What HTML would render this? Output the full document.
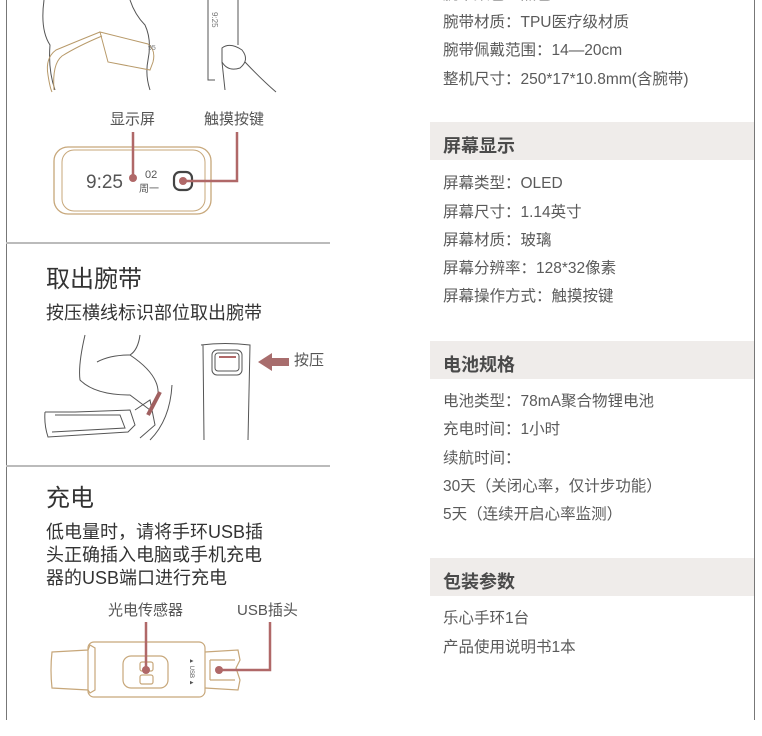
<!DOCTYPE html>
<html><head><meta charset="utf-8"><style>
body{margin:0;width:762px;height:736px;background:#fff;position:relative;overflow:hidden;font-family:"Liberation Sans","Noto Sans CJK SC",sans-serif;color:#555}
.t{position:absolute;white-space:nowrap;line-height:1}
.r{font-size:15.5px;color:#5a5a5a;left:443px}
.h{position:absolute;left:430px;width:324px;height:38px;background:#efecea}
.h span{position:absolute;left:13px;top:10px;font-size:18px;font-weight:bold;color:#4a4a4a}
.big{font-size:24px;color:#333;left:46px}
.mid{font-size:18px;color:#333;left:46px}
svg{position:absolute;left:0;top:0}
</style></head><body>
<div style="position:absolute;left:6px;top:0;width:1px;height:720px;background:#777"></div>
<div style="position:absolute;left:754px;top:0;width:1px;height:720px;background:#777"></div>
<div style="position:absolute;left:6px;top:242px;width:324px;height:2px;background:#bbb"></div>
<div style="position:absolute;left:6px;top:465px;width:324px;height:2px;background:#bbb"></div>

<svg width="762" height="736" viewBox="0 0 762 736" fill="none">
<g stroke="#555" stroke-width="1">
<path d="M44 0 Q40 30 50 45 Q48 70 55 90"/>
<path d="M130 0 Q135 15 145 25 Q152 40 148 60 Q145 75 150 90"/>
<path d="M208 0 L208 80 L215 80"/>
<path d="M238 0 L238 45"/>
<path d="M222 48 Q230 42 242 50 Q250 60 240 68 Q228 72 222 62 Z"/>
<path d="M222 62 L225 90 M245 62 Q262 80 276 92"/>
</g>
<g stroke="#b89a6a" stroke-width="1">
<path d="M100 32 Q80 40 56 50 Q45 58 48 75 Q50 88 52 92"/>
<path d="M102 36 Q78 46 62 56 Q52 64 54 90"/>
<path d="M100 32 L148 44 Q156 50 153 62 L150 70 L108 62 Z"/>
</g>
<text x="148" y="50" font-size="7" fill="#777" font-family="Liberation Sans">95</text>
<text x="212" y="12" font-size="8" fill="#777" transform="rotate(90 212 12)" font-family="Liberation Sans">9:25</text>
<rect x="54" y="147" width="157" height="67" rx="14" stroke="#c7a77a" stroke-width="1.3"/>
<rect x="62" y="150" width="143" height="61" rx="12" stroke="#c7a77a" stroke-width="1"/>
<text x="86" y="188" font-size="19" fill="#555" font-family="Liberation Sans">9:25</text>
<text x="145" y="178" font-size="11" fill="#555" font-family="Liberation Sans">02</text>
<text x="139" y="192" font-size="10" fill="#555" font-family="Noto Sans CJK SC">周一</text>
<rect x="174" y="172" width="18" height="18" rx="6" stroke="#444" stroke-width="2.2"/>
<circle cx="183" cy="181" r="4" fill="#b06868"/>
<circle cx="133" cy="178" r="4" fill="#b06868"/>
<path d="M133 132 V178 M183 181 H237 V132" stroke="#b06868" stroke-width="2.5"/>
<g stroke="#555" stroke-width="1">
<path d="M85 335 Q78 365 80 380 Q95 395 130 395 L150 410"/>
<path d="M140 335 Q138 350 130 355 Q110 355 97 362"/>
<path d="M130 355 Q160 375 158 395"/>
<path d="M172 385 Q170 420 150 440"/>
<path d="M45 412 L75 412 L130 410 L135 425 L128 432 L48 437 Q44 425 45 412"/>
<path d="M55 415 L120 415 L125 428 L52 432"/>
<path d="M135 410 L150 400 L155 425 L140 438"/>
<path d="M201 345 Q225 342 250 345 L248 440 M203 345 L204 440"/>
<rect x="212" y="350" width="30" height="25" rx="5"/>
<rect x="215" y="353" width="24" height="18" rx="3"/>
</g>
<path d="M148 415 L160 392" stroke="#a06060" stroke-width="4"/>
<path d="M219 357 H236" stroke="#b06868" stroke-width="2"/>
<path d="M258 362 L272 353 V358 H289 V366 H272 V371 Z" fill="#a86d6d"/>
<g stroke="#c7a77a" stroke-width="1.2">
<path d="M52 652 L88 650 L90 645 L95 648 L95 690 L90 693 L88 690 L52 688 Q50 670 52 652Z"/>
<rect x="88" y="642" width="117" height="55" rx="6"/>
<rect x="123" y="656" width="45" height="32" rx="8"/>
<rect x="140" y="662" width="13" height="9" rx="2"/>
<rect x="140" y="675" width="13" height="9" rx="2"/>
<path d="M205 652 L238 650 L240 660 L236 668 L240 680 L238 690 L205 688"/>
<path d="M210 660 L235 660 M210 680 L235 680 M210 660 V680"/>
</g>
<text x="190" y="658" font-size="6" fill="#555" transform="rotate(90 190 658)" font-family="Liberation Sans">▲ USB ▲</text>
<circle cx="146" cy="670" r="4" fill="#b06868"/>
<circle cx="219" cy="670" r="4" fill="#b06868"/>
<path d="M146 622 V670 M219 670 H270 V622" stroke="#b06868" stroke-width="2.5"/>
</svg>

<div class="t" style="left:110px;top:112px;font-size:15px;color:#555">显示屏</div>
<div class="t" style="left:204px;top:112px;font-size:15px;color:#555">触摸按键</div>
<div class="t" style="left:294px;top:353px;font-size:15px;color:#555">按压</div>
<div class="t" style="left:108px;top:603px;font-size:15px;color:#555">光电传感器</div>
<div class="t" style="left:237px;top:603px;font-size:15px;color:#555">USB插头</div>

<div class="t big" style="top:268px">取出腕带</div>
<div class="t mid" style="top:304px">按压横线标识部位取出腕带</div>
<div class="t big" style="top:487px">充电</div>
<div class="t mid" style="top:523px">低电量时，请将手环USB插</div>
<div class="t mid" style="top:546px">头正确插入电脑或手机充电</div>
<div class="t mid" style="top:569px">器的USB端口进行充电</div>

<div class="t r" style="top:-13px">腕带颜色：黑色</div>
<div class="t r" style="top:15px">腕带材质：TPU医疗级材质</div>
<div class="t r" style="top:43px">腕带佩戴范围：14—20cm</div>
<div class="t r" style="top:72px">整机尺寸：250*17*10.8mm(含腕带)</div>

<div class="h" style="top:122px"><span>屏幕显示</span></div>
<div class="t r" style="top:176px">屏幕类型：OLED</div>
<div class="t r" style="top:205px">屏幕尺寸：1.14英寸</div>
<div class="t r" style="top:233px">屏幕材质：玻璃</div>
<div class="t r" style="top:261px">屏幕分辨率：128*32像素</div>
<div class="t r" style="top:289px">屏幕操作方式：触摸按键</div>

<div class="h" style="top:341px"><span>电池规格</span></div>
<div class="t r" style="top:394px">电池类型：78mA聚合物锂电池</div>
<div class="t r" style="top:422px">充电时间：1小时</div>
<div class="t r" style="top:451px">续航时间：</div>
<div class="t r" style="top:479px">30天（关闭心率，仅计步功能）</div>
<div class="t r" style="top:507px">5天（连续开启心率监测）</div>

<div class="h" style="top:558px"><span>包装参数</span></div>
<div class="t r" style="top:611px">乐心手环1台</div>
<div class="t r" style="top:640px">产品使用说明书1本</div>
</body></html>
